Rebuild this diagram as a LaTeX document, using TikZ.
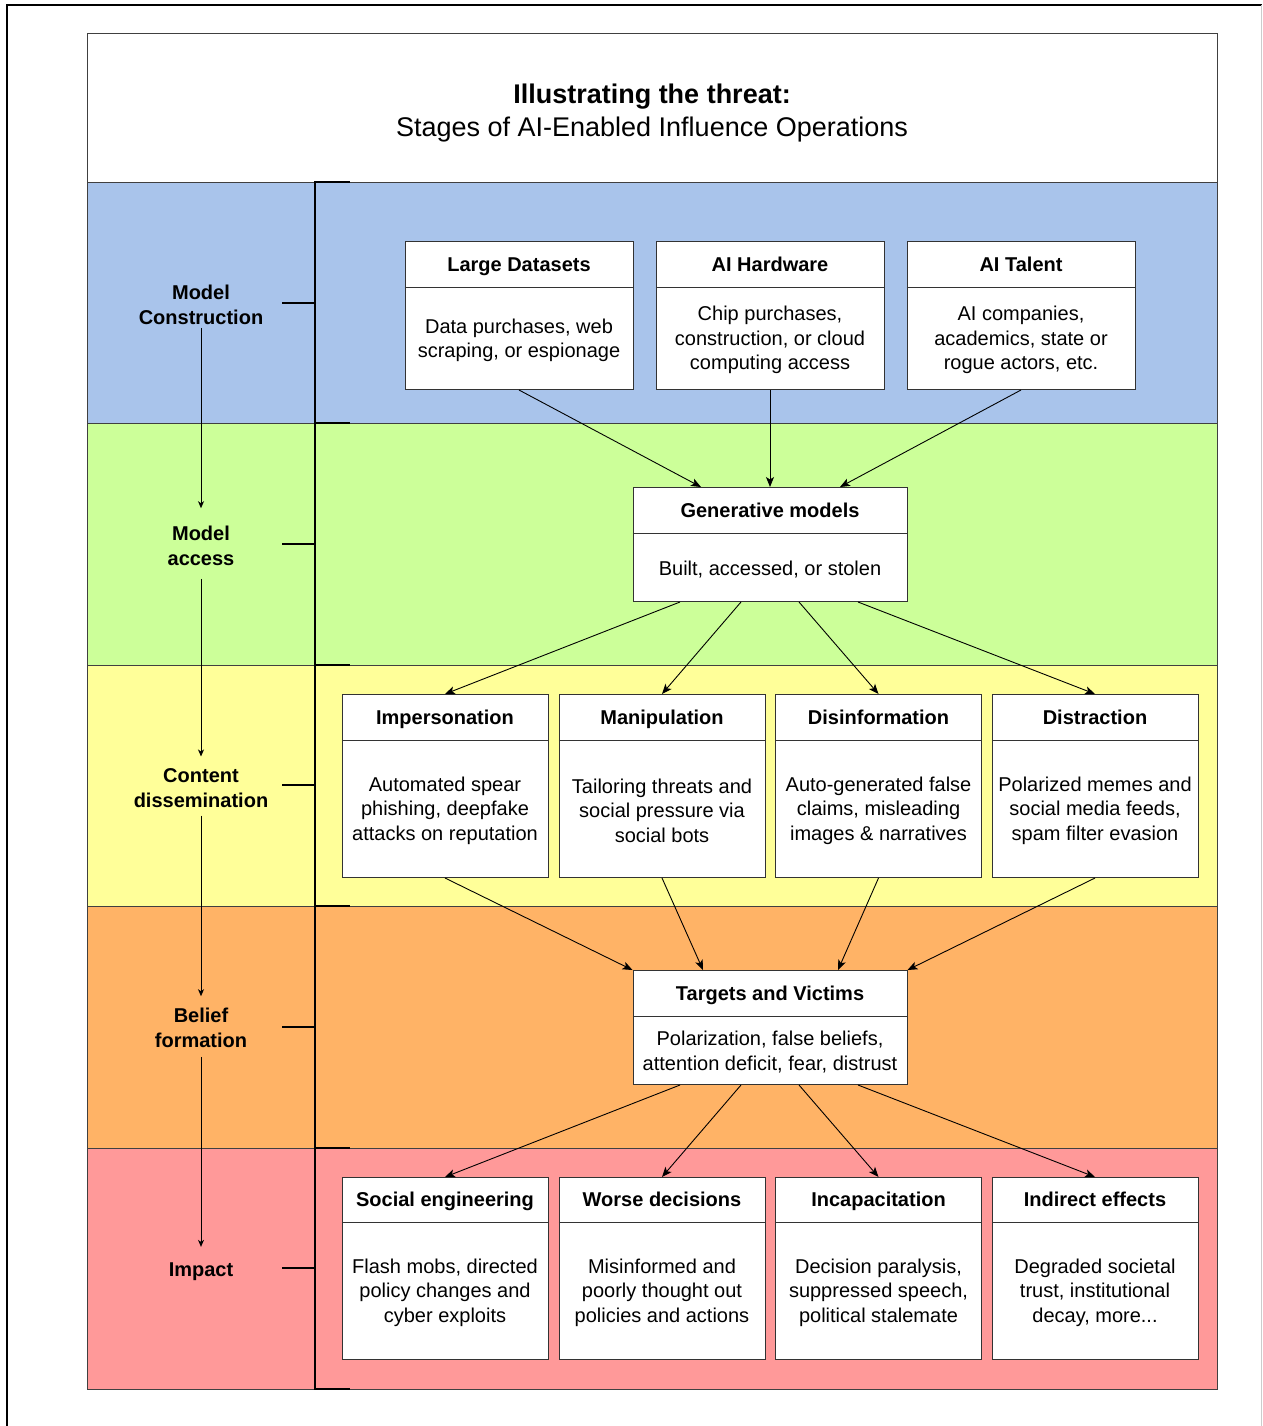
\documentclass[tikz,border=0pt]{standalone}
\usepackage{fontspec}
\setmainfont{Liberation Sans}
\usetikzlibrary{arrows.meta,calc}
\definecolor{cblue}{HTML}{A9C4EB}
\definecolor{cgreen}{HTML}{CCFF99}
\definecolor{cyellow}{HTML}{FFFF99}
\definecolor{corange}{HTML}{FFB366}
\definecolor{cred}{HTML}{FF9999}
\tikzset{
  bandst/.style={draw=black!75, line width=1pt},
  boxst/.style={draw=black!80, fill=white, line width=1pt, inner sep=0pt},
  hdst/.style={inner sep=0pt, text height=18.5pt, text depth=4.2pt, font=\bfseries\fontsize{20}{24.5}\selectfont},
  bodyst/.style={inner sep=0pt, align=center, font=\fontsize{20}{24.5}\selectfont},
  divst/.style={draw=black!80, line width=1pt},
  lab/.style={inner sep=0pt, align=center, font=\bfseries\fontsize{20}{24.5}\selectfont},
  arr/.style={-{Stealth[length=10pt,width=8pt,inset=2.5pt]}, line width=0.9pt},
  larr/.style={-{Stealth[length=7pt,width=6pt,inset=2pt]}, line width=0.9pt},
  brk/.style={line width=2.6pt},
  ttl/.style={inner sep=0pt, text height=25.5pt, text depth=5.7pt},
}
\newcommand\mkTwoBox[8]{%
  \node[boxst, minimum width=#4pt, minimum height=#5pt, anchor=north] (#1) at (#2,#3) {};
  \node[hdst, minimum width=#4pt, minimum height=#6pt, anchor=north] (#1h) at (#2,#3) {#7};
  \draw[divst] (#1h.south west) -- (#1h.south east);
  \node[bodyst] (#1b) at ($(#1h.south)!0.5!(#1.south)+(0,1.5)$) {#8};
}
\begin{document}
\begin{tikzpicture}[x=1pt,y=-1pt]
\useasboundingbox (0,0) rectangle (1262,1426);
% outer frame
\draw[line width=1.2pt] (7,1426) -- (7,5) -- (1262,5);
\draw[black!20, line width=1pt] (1261,5) -- (1261,1426);
% title area and bands
\path[fill=white, bandst] (87,34) rectangle (1217,182);
\path[fill=cblue, bandst] (87,182) rectangle (1217,423);
\path[fill=cgreen, bandst] (87,423) rectangle (1217,665);
\path[fill=cyellow, bandst] (87,665) rectangle (1217,906);
\path[fill=corange, bandst] (87,906) rectangle (1217,1148);
\path[fill=cred, bandst] (87,1148) rectangle (1217,1389);
\node[ttl, font=\bfseries\fontsize{27}{33}\selectfont] (t1) at (652,94) {Illustrating the threat:};
\node[ttl, font=\fontsize{27}{33}\selectfont] (t2) at (652,127) {Stages of AI-Enabled Influence Operations};
% bracket
\draw[brk] (315,182) -- (315,1389);
\foreach \yy in {182,423,665,906,1148,1389} \draw[brk] (314,\yy) -- (350,\yy);
\foreach \yy in {303,544,785,1027,1268} \draw[brk] (282,\yy) -- (315,\yy);
% stage labels
\node[lab] (l1) at (201,305) {Model\\Construction};
\node[lab] (l2) at (201,546) {Model\\access};
\node[lab] (l3) at (201,788) {Content\\dissemination};
\node[lab] (l4) at (201,1028) {Belief\\formation};
\node[lab] (l5) at (201,1272) {Impact};
\draw[larr, shorten <=3pt, shorten >=18pt] (l1.south) -- (l2.north);
\draw[larr, shorten <=13pt, shorten >=12pt] (l2.south) -- (l3.north);
\draw[larr, shorten <=8pt, shorten >=12pt] (l3.south) -- (l4.north);
\draw[larr, shorten <=9pt, shorten >=16pt] (l4.south) -- (l5.north);
% row 1
\mkTwoBox{ld}{519}{241}{228}{148}{46}{Large Datasets}{Data purchases, web\\scraping, or espionage}
\mkTwoBox{hw}{770}{241}{228}{148}{46}{AI Hardware}{Chip purchases,\\construction, or cloud\\computing access}
\mkTwoBox{tal}{1021}{241}{228}{148}{46}{AI Talent}{AI companies,\\academics, state or\\rogue actors, etc.}
% generative models
\mkTwoBox{gen}{770}{487}{274}{114}{46}{Generative models}{Built, accessed, or stolen}
% row 3
\mkTwoBox{imp}{445}{694}{206}{183}{46}{Impersonation}{Automated spear\\phishing, deepfake\\attacks on reputation}
\mkTwoBox{man}{662}{694}{206}{183}{46}{Manipulation}{Tailoring threats and\\social pressure via\\social bots}
\mkTwoBox{dis}{878.5}{694}{206}{183}{46}{Disinformation}{Auto-generated false\\claims, misleading\\images \& narratives}
\mkTwoBox{dst}{1095}{694}{206}{183}{46}{Distraction}{Polarized memes and\\social media feeds,\\spam filter evasion}
% targets
\mkTwoBox{tv}{770}{970}{274}{114}{46}{Targets and Victims}{Polarization, false beliefs,\\attention deficit, fear, distrust}
% row 5
\mkTwoBox{se}{445}{1177}{206}{182}{45}{Social engineering}{Flash mobs, directed\\policy changes and\\cyber exploits}
\mkTwoBox{wd}{662}{1177}{206}{182}{45}{Worse decisions}{Misinformed and\\poorly thought out\\policies and actions}
\mkTwoBox{inc}{878.5}{1177}{206}{182}{45}{Incapacitation}{Decision paralysis,\\suppressed speech,\\political stalemate}
\mkTwoBox{ind}{1095}{1177}{206}{182}{45}{Indirect effects}{Degraded societal\\trust, institutional\\decay, more...}
% arrows row1 -> gen
\draw[arr] (ld.south) -- ($(gen.north)+(-69,0)$);
\draw[arr] (hw.south) -- (gen.north);
\draw[arr] (tal.south) -- ($(gen.north)+(70,0)$);
% gen -> row3
\draw[arr] ($(gen.south)+(-90,0)$) -- (imp.north);
\draw[arr] ($(gen.south)+(-29,0)$) -- (man.north);
\draw[arr] ($(gen.south)+(29,0)$) -- (dis.north);
\draw[arr] ($(gen.south)+(88,0)$) -- (dst.north);
% row3 -> targets
\draw[arr] (imp.south) -- (tv.north west);
\draw[arr] (man.south) -- ($(tv.north)+(-67,0)$);
\draw[arr] (dis.south) -- ($(tv.north)+(68,0)$);
\draw[arr] (dst.south) -- (tv.north east);
% targets -> row5
\draw[arr] ($(tv.south)+(-90,0)$) -- (se.north);
\draw[arr] ($(tv.south)+(-29,0)$) -- (wd.north);
\draw[arr] ($(tv.south)+(29,0)$) -- (inc.north);
\draw[arr] ($(tv.south)+(88,0)$) -- (ind.north);
\end{tikzpicture}
\end{document}
